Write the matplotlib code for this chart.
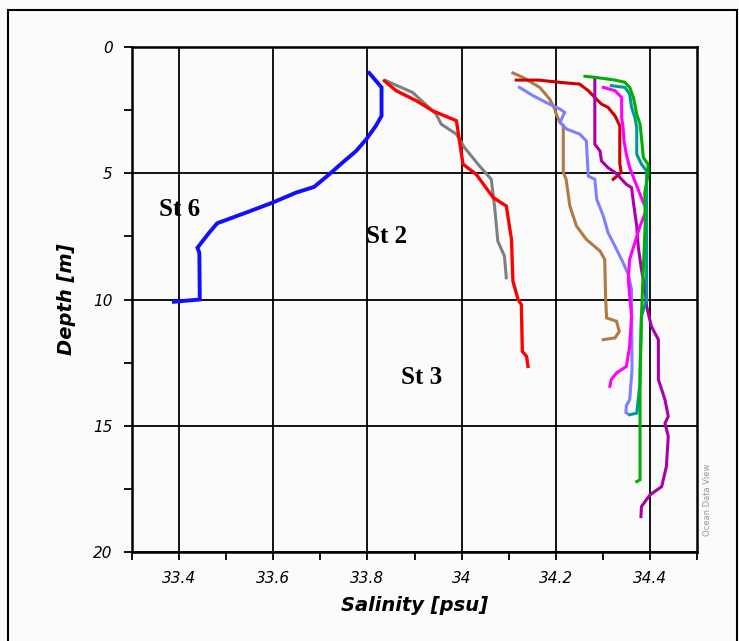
import numpy as np
import matplotlib
matplotlib.use("Agg")
import matplotlib.pyplot as plt
from matplotlib.patches import Rectangle
from matplotlib.ticker import MultipleLocator

# salinity profiles (psu) against depth (m), one pair of lists per cast
st6_sal = [33.804, 33.830, 33.830, 33.818, 33.799, 33.776, 33.747, 33.719, 33.687,
           33.648, 33.599, 33.542, 33.481, 33.464, 33.439, 33.443, 33.444, 33.389]
st6_dep = [1.03, 1.60, 2.73, 3.12, 3.62, 4.12, 4.58, 5.04, 5.54,
           5.77, 6.16, 6.56, 6.98, 7.35, 7.95, 8.15, 10.0, 10.09]

st2_sal = [33.836, 33.861, 33.904, 33.939, 33.989, 33.996, 34.003, 34.031, 34.067,
           34.095, 34.106, 34.109, 34.120, 34.127, 34.129, 34.138, 34.141]
st2_dep = [1.34, 1.73, 2.13, 2.53, 2.92, 3.78, 4.64, 5.04, 5.96,
           6.30, 7.62, 9.27, 10.0, 10.2, 12.05, 12.25, 12.65]

grey_sal = [33.840, 33.896, 33.946, 33.957, 33.989, 34.006, 34.038, 34.063,
            34.070, 34.077, 34.091, 34.095]
grey_dep = [1.34, 1.80, 2.66, 3.06, 3.45, 3.98, 4.71, 5.24, 6.30, 7.69, 8.28, 9.14]

brown_sal = [34.109, 34.130, 34.166, 34.187, 34.198, 34.201, 34.209, 34.216, 34.216,
             34.222, 34.230, 34.244, 34.265, 34.294, 34.304, 34.306, 34.308,
             34.329, 34.335, 34.326, 34.301]
brown_dep = [1.03, 1.20, 1.60, 2.06, 2.46, 2.66, 2.99, 3.10, 4.97,
             5.24, 6.30, 7.09, 7.62, 8.08, 8.41, 10.0, 10.73,
             10.86, 11.26, 11.52, 11.59]

lblue_sal = [34.123, 34.152, 34.180, 34.209, 34.219, 34.209, 34.223, 34.251, 34.265,
             34.269, 34.283, 34.287, 34.301, 34.311, 34.322, 34.343, 34.354, 34.361,
             34.362, 34.357, 34.350, 34.349, 34.355]
lblue_dep = [1.60, 1.93, 2.20, 2.46, 2.59, 2.99, 3.25, 3.45, 3.72,
             5.11, 5.24, 6.03, 6.69, 7.35, 7.75, 8.54, 9.0, 9.6,
             12.78, 13.97, 14.2, 14.48, 14.55]

dred_sal = [34.116, 34.163, 34.209, 34.251, 34.269, 34.283, 34.297, 34.311, 34.326,
            34.336, 34.336, 34.339, 34.322]
dred_dep = [1.31, 1.31, 1.40, 1.47, 1.73, 2.00, 2.26, 2.39, 2.73,
            3.12, 4.60, 4.97, 5.24]

green_sal = [34.262, 34.283, 34.326, 34.347, 34.357, 34.365, 34.372, 34.379, 34.382,
             34.386, 34.396, 34.396, 34.389, 34.390, 34.384, 34.382, 34.379, 34.379,
             34.372]
green_dep = [1.16, 1.20, 1.31, 1.40, 1.60, 2.0, 2.66, 3.06, 3.58,
             4.38, 4.64, 5.05, 5.77, 7.0, 9.73, 10.66, 12.78, 17.14,
             17.21]

teal_sal = [34.318, 34.347, 34.357, 34.361, 34.368, 34.372, 34.372, 34.382, 34.393,
            34.393, 34.393, 34.382, 34.379, 34.372, 34.358]
teal_dep = [1.53, 1.60, 1.87, 2.39, 2.79, 3.19, 4.25, 4.64, 4.91,
            8.0, 10.0, 10.66, 13.3, 14.5, 14.56]

purple_sal = [34.283, 34.283, 34.283, 34.294, 34.297, 34.311, 34.326, 34.330, 34.350,
              34.361, 34.365, 34.372, 34.375, 34.382, 34.390, 34.393, 34.403, 34.418,
              34.418, 34.432, 34.439, 34.432, 34.439, 34.435, 34.425, 34.400, 34.382,
              34.381]
purple_dep = [1.27, 2.0, 3.85, 4.12, 4.51, 4.78, 4.97, 5.04, 5.44,
              5.57, 6.16, 7.09, 7.88, 8.81, 9.6, 10.27, 11.06, 11.59,
              13.17, 13.97, 14.63, 14.9, 15.42, 16.61, 17.41, 17.74, 18.2,
              18.6]

pink_sal = [34.301, 34.326, 34.340, 34.340, 34.343, 34.345, 34.350, 34.357, 34.372,
            34.386, 34.393, 34.379, 34.368, 34.357, 34.354, 34.361, 34.357, 34.350,
            34.329, 34.318, 34.315]
pink_dep = [1.60, 1.73, 2.0, 2.8, 3.19, 3.72, 4.25, 4.78, 5.50,
            6.16, 6.43, 7.09, 7.75, 8.41, 9.21, 10.66, 11.85, 12.65,
            12.91, 13.17, 13.44]

profiles = [
    (brown_sal, brown_dep, "#b07a45", 2.2),
    (lblue_sal, lblue_dep, "#8080ff", 2.2),
    (dred_sal, dred_dep, "#cc0000", 2.2),
    (purple_sal, purple_dep, "#aa00aa", 2.2),
    (pink_sal, pink_dep, "#ff00ff", 2.2),
    (teal_sal, teal_dep, "#00999a", 2.2),
    (green_sal, green_dep, "#00b000", 2.2),
    (grey_sal, grey_dep, "#808080", 2.2),
    (st2_sal, st2_dep, "#ff0000", 2.4),
    (st6_sal, st6_dep, "#1010ff", 2.8),
]

station_names = ["St 6", "St 2", "St 3"]
station_sal = [33.40, 33.84, 33.915]
station_dep = [6.45, 7.5, 13.1]

bg = "#fbfbfb"
fig = plt.figure(figsize=(7.39, 6.41), dpi=100, facecolor=bg)
ax = fig.add_axes([132 / 739, 89 / 641, 565 / 739, 505 / 641], facecolor=bg)

for sal, dep, col, lw in profiles:
    ax.plot(sal, dep, color=col, lw=lw, solid_joinstyle="miter", zorder=3)

for name, s, d in zip(station_names, station_sal, station_dep):
    ax.text(s, d, name, fontsize=18, fontweight="bold", family="Liberation Serif",
            ha="center", va="center", zorder=4)

ax.set_xlim(33.3, 34.5)
ax.set_ylim(20, 0)
ax.xaxis.set_major_locator(MultipleLocator(0.2))
ax.xaxis.set_minor_locator(MultipleLocator(0.1))
ax.yaxis.set_major_locator(MultipleLocator(5))
ax.yaxis.set_minor_locator(MultipleLocator(2.5))
ax.set_xticks(np.arange(33.4, 34.41, 0.2))
ax.set_xticklabels(["33.4", "33.6", "33.8", "34", "34.2", "34.4"])
ax.grid(True, which="major", color="black", lw=1.3, zorder=1)
ax.tick_params(which="both", direction="out", color="black", width=1.3)
ax.tick_params(which="major", length=6, labelsize=11, pad=8)
ax.tick_params(which="minor", length=6)
for lab in ax.get_xticklabels() + ax.get_yticklabels():
    lab.set_fontstyle("italic")
for sp in ax.spines.values():
    sp.set_linewidth(1.8)

ax.set_xlabel("Salinity [psu]", fontsize=14, fontweight="bold", fontstyle="italic", labelpad=7)
ax.set_ylabel("Depth [m]", fontsize=14, fontweight="bold", fontstyle="italic", labelpad=12)

fig.text(708 / 739, 1 - 500 / 641, "Ocean Data View", rotation=90, fontsize=6,
         color="#999999", ha="center", va="center")

# outer frame around the figure
fig.patches.append(Rectangle((8 / 739, -0.02), 729 / 739, 1.02 - 10 / 641,
                             transform=fig.transFigure, fill=False,
                             edgecolor="black", lw=1.5))

fig.savefig("out.png", dpi=100, facecolor=bg)
